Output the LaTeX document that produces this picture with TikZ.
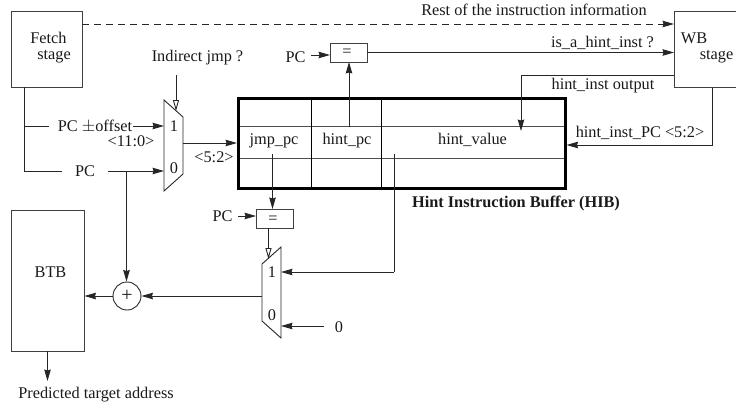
\documentclass[tikz,border=0pt]{standalone}
\usepackage{fontspec}
\setmainfont{Liberation Serif}
\usetikzlibrary{arrows.meta,calc}
\tikzset{
  x=1pt,y=-1pt,
  lab/.style={inner sep=0pt,font=\fontsize{16.3}{18}\selectfont,text=black!90},
  boxn/.style={draw=black!75,line width=0.9pt,inner sep=0pt,minimum width=#1},
  cell/.style={draw=black!70,line width=0.9pt},
  wire/.style={draw=black!85,line width=0.9pt},
  arr/.style={wire,-{Stealth[inset=1pt,length=11.5pt,width=6.5pt]}},
  ctl/.style={wire,-{Triangle[open,length=11pt,width=6pt]}},
  frame/.style={draw=black,line width=3pt},
}
\begin{document}
\begin{tikzpicture}
\useasboundingbox (0,0) rectangle (736,407);
% boxes
\node[boxn=70.5pt,minimum height=76pt] (fetch) at (46.7,49) {};
\node[boxn=62pt,minimum height=76pt,anchor=north west] (wb) at (674,11) {};
\node[boxn=73pt,minimum height=141pt] (btb) at (47.5,280.5) {};
\node[boxn=37pt,minimum height=19pt] (eq1) at (348.5,52.5) {};
\node[boxn=37pt,minimum height=18.5pt] (eq2) at (274.5,219) {};
\node[draw=black!85,line width=0.9pt,circle,minimum size=28pt,inner sep=0pt] (add) at (127,296) {};
% coordinates on the HIB
\coordinate (hibnw) at (238,98);
\coordinate (hibse) at (565,188);
\coordinate (v1t) at (311,98); \coordinate (v1b) at (311,188);
\coordinate (v2t) at (381,98); \coordinate (v2b) at (381,188);
\coordinate (h1l) at (238,126); \coordinate (h1r) at (565,126);
\coordinate (h2l) at (238,158); \coordinate (h2r) at (565,158);
\draw[cell] (h1l) -- (h1r) (h2l) -- (h2r);
\draw[draw=black,line width=1pt] (v1t) -- (v1b) (v2t) -- (v2b);
\draw[frame] (hibnw) rectangle (hibse);
% muxes
\draw[wire,line join=miter] (164,100) -- (183,117) -- (183,174) -- (164,191) -- cycle;
\draw[wire,line join=miter] (281,247) -- (262,264) -- (262,321) -- (281,338) -- cycle;
% texts
\node[lab] (tfetch1) at (48.5,38) {Fetch};
\node[lab] (tfetch2) at (54,57) {stage};
\node[lab] (twb1) at (694,38) {WB};
\node[lab] (twb2) at (716.5,57) {stage};
\node[lab] (tbtb) at (50.5,272) {BTB};
\node[lab] (teq1) at (347,52.5) {=};
\node[lab] (teq2) at (273,219.5) {=};
\node[lab,font=\fontsize{20}{20}\selectfont] (tplus) at (127,296) {+};
\node[lab] (tind) at (197.5,58) {Indirect jmp ?};
\node[lab] (tpc1) at (295.5,57) {PC};
\node[lab] (tpc2) at (222.5,216) {PC};
\node[lab] (toff) at (95,126.5) {PC $\pm$offset};
\node[lab] (tbits1) at (131,141.5) {<11:0>};
\node[lab] (tpc3) at (85,171.5) {PC};
\node[lab] (tbits2) at (214,157.5) {<5:2>};
\node[lab] (tone1) at (174,126) {1};
\node[lab] (tzero1) at (174,168.5) {0};
\node[lab] (tone2) at (272,272) {1};
\node[lab] (tzero2) at (272,315) {0};
\node[lab] (tzero3) at (339,327) {0};
\node[lab] (tjmp) at (274,141) {jmp\_pc};
\node[lab] (thpc) at (347,141) {hint\_pc};
\node[lab] (thv) at (472.5,140) {hint\_value};
\node[lab] (trest) at (534,10) {Rest of the instruction information};
\node[lab] (tis) at (602.5,42.5) {is\_a\_hint\_inst ?};
\node[lab] (tho) at (603,86) {hint\_inst output};
\node[lab] (thip) at (640,132.5) {hint\_inst\_PC <5:2>};
\node[lab,font=\fontsize{16.3}{18}\selectfont\bfseries] (thib) at (516,203) {Hint Instruction Buffer (HIB)};
\node[lab] (tpred) at (96,395) {Predicted target address};
% helper points
\coordinate (m1a) at (164,126);
\coordinate (m1b) at (164,171);
\coordinate (m1o) at (183,143);
\coordinate (m1c) at (176,111);
\coordinate (m2a) at (281,272);
\coordinate (m2b) at (281,326);
\coordinate (m2o) at (262,296);
\coordinate (m2c) at (268.5,259);
\coordinate (fd) at (24.5,171);
\coordinate (fm) at (24.5,126);
\coordinate (j1) at (126.5,171);
\coordinate (wbo) at (521,75);
\coordinate (hv) at (521,131);
\coordinate (wbb) at (712.5,145);
\coordinate (hive) at (394,154);
\coordinate (hivb) at (394,272);
\coordinate (pc1s) at (311,55);
\coordinate (pc1e) at (330,55);
\coordinate (pc2s) at (238,216);
\coordinate (pc2e) at (256,216);
% connectors
\draw[arr,dash pattern=on 7pt off 5pt] (fetch.east |- 0,24) -- (wb.west |- 0,24);
\draw[arr] (eq1.east) -- (wb.west |- eq1.east);
\draw[arr] (wb.west |- wbo) -- (wbo) -- (hv);
\draw[arr] (wb.south -| wbb) -- (wbb) -- (566.5,145);
\draw[arr] (pc1s) -- (pc1e);
\draw[arr] (349,127) -- (349,62);
\draw[ctl] (176,75) -- (m1c);
\draw[wire] (fetch.south -| fd) -- (fd) -- (62,171);
\draw[wire] (fm) -- (49,126);
\draw[arr] (132.5,126) -- (m1a);
\draw[arr] (107.5,171) -- (m1b);
\draw[arr] (m1o) -- (237,143);
\draw[arr] (j1) -- (add.north -| j1);
\draw[arr] (272.5,154) -- (272.5,209);
\draw[arr] (pc2s) -- (pc2e);
\draw[ctl] (268.5,228) -- (m2c);
\draw[wire] (hive) -- (hivb);
\draw[arr] (hivb) -- (m2a);
\draw[arr] (m2o) -- (add.east);
\draw[arr] (add.west) -- (btb.east |- add.west);
\draw[arr] (324,326) -- (m2b);
\draw[arr] (47.5,351) -- (47.5,381);
\end{tikzpicture}
\end{document}
